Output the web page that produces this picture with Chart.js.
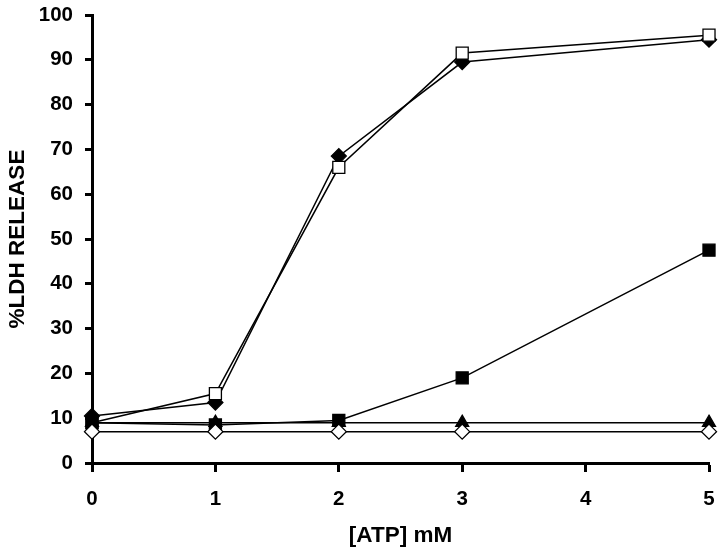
<!DOCTYPE html>
<html>
<head>
<meta charset="utf-8">
<script src="https://cdn.jsdelivr.net/npm/chart.js@4.4.0/dist/chart.umd.min.js"></script>
<style>
html,body{margin:0;padding:0;background:#fff;}
#wrap{width:720px;height:552px;position:relative;}
</style>
</head>
<body>
<div id="wrap"><canvas id="c" width="720" height="552"></canvas></div>
<script>
const atp = [0, 1, 2, 3, 5];
const filledDiamond = [10.5, 13.5, 68.5, 89.5, 94.5];
const openSquare = [9, 15.5, 66, 91.5, 95.5];
const filledSquare = [9, 8.5, 9.5, 19, 47.5];
const filledTriangle = [9, 9, 9, 9, 9];
const openDiamond = [7, 7, 7, 7, 7];
const xTicks = [0, 1, 2, 3, 4, 5];
const yTicks = [0, 10, 20, 30, 40, 50, 60, 70, 80, 90, 100];

function pts(vals){ return atp.map((x,i)=>({x:x, y:vals[i]})); }
function ds(label, vals, style, fill, r){
  return {label:label, data:pts(vals), borderColor:'#000', borderWidth:1.5,
    pointStyle:style, pointBackgroundColor:fill, pointBorderColor:'#000',
    pointBorderWidth:1.3, pointRadius:r, pointHoverRadius:r, tension:0, fill:false, clip:false};
}
const fam = '"Liberation Sans", Arial, sans-serif';
const font = {family:fam, size:20.5, weight:'bold'};
const tfont = {family:fam, size:22.5, weight:'bold'};
new Chart(document.getElementById('c'), {
  type:'line',
  data:{datasets:[
    ds('open diamond', openDiamond, 'rectRot', '#fff', 7.5),
    ds('filled square', filledSquare, 'rect', '#000', 8.5),
    ds('filled triangle', filledTriangle, 'triangle', '#000', 7.5),
    ds('open square', openSquare, 'rect', '#fff', 8.5),
    ds('filled diamond', filledDiamond, 'rectRot', '#000', 7.5)
  ]},
  options:{
    responsive:false, animation:false,
    layout:{padding:{top:15, right:11, left:0, bottom:0}},
    plugins:{legend:{display:false}, tooltip:{enabled:false}},
    scales:{
      x:{type:'linear', min:0, max:5,
        afterBuildTicks:(s)=>{s.ticks = xTicks.map(v=>({value:v}));},
        afterFit:(s)=>{s.height = 89; s.paddingLeft = 0; s.paddingRight = 0;},
        border:{display:true, color:'#000', width:3},
        grid:{display:true, drawOnChartArea:false, drawTicks:true, tickLength:9, tickWidth:3, tickColor:'#000'},
        ticks:{color:'#000', font:font, padding:15, maxRotation:0},
        title:{display:true, text:'[ATP] mM', color:'#000', font:tfont, padding:{top:0,bottom:3}}
      },
      y:{type:'linear', min:0, max:100,
        afterBuildTicks:(s)=>{s.ticks = yTicks.map(v=>({value:v}));},
        afterFit:(s)=>{s.width = 92; s.paddingTop = 0; s.paddingBottom = 0;},
        border:{display:true, color:'#000', width:3},
        grid:{display:true, drawOnChartArea:false, drawTicks:true, tickLength:7, tickWidth:3, tickColor:'#000'},
        ticks:{color:'#000', font:font, padding:12},
        title:{display:true, text:'%LDH RELEASE', color:'#000', font:tfont, padding:{top:4,bottom:0}}
      }
    }
  }
});
</script>
</body>
</html>
